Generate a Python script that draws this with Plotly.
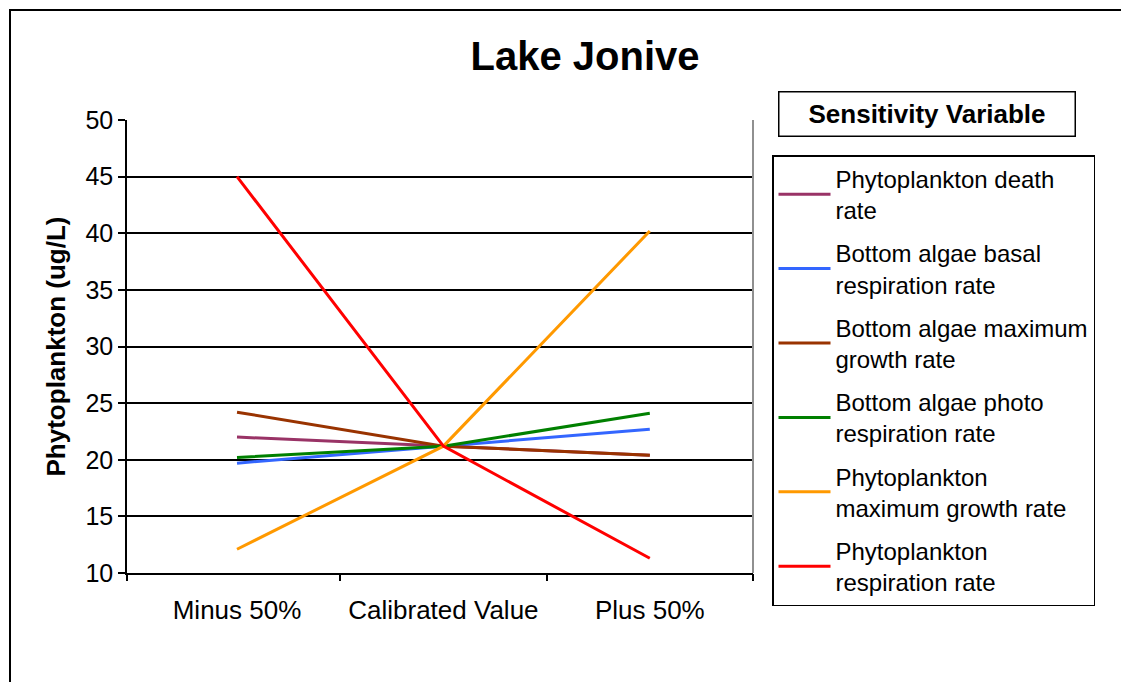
import plotly.graph_objects as go

categories = ["Minus 50%", "Calibrated Value", "Plus 50%"]
series_names = [
    "Phytoplankton death<br>rate",
    "Bottom algae basal<br>respiration rate",
    "Bottom algae maximum<br>growth rate",
    "Bottom algae photo<br>respiration rate",
    "Phytoplankton<br>maximum growth rate",
    "Phytoplankton<br>respiration rate",
]
death_rate = [22.0, 21.2, 20.4]
basal_resp = [19.7, 21.2, 22.7]
max_growth_algae = [24.2, 21.2, 20.4]
photo_resp = [20.2, 21.2, 24.1]
phyto_max_growth = [12.1, 21.2, 40.2]
phyto_resp = [45.0, 21.2, 11.3]
series_values = [death_rate, basal_resp, max_growth_algae, photo_resp, phyto_max_growth, phyto_resp]
colors = ["#993366", "#3366FF", "#993300", "#008000", "#FF9900", "#FF0000"]
y_ticks = [10, 15, 20, 25, 30, 35, 40, 45, 50]

FONT = "Liberation Sans, Arial, sans-serif"
OFF = 8  # page body margin
X_RANGE = [-0.533, 2.5]

fig = go.Figure()
for i, (name, vals, col) in enumerate(zip(series_names, series_values, colors)):
    fig.add_trace(go.Scatter(
        x=categories, y=vals, name=name, mode="lines",
        line=dict(color=col, width=3), legendgroup=f"g{i}",
    ))

# helper (invisible) trace so the boundary-tick axis gets drawn
fig.add_trace(go.Scatter(
    x=[0], y=[None], xaxis="x2", yaxis="y", mode="markers",
    marker=dict(opacity=0), showlegend=False, hoverinfo="skip",
))

W, H = 1129 - OFF, 682 - OFF
L, T = 127 - OFF, 120 - OFF
R = W - (753 - OFF)
B = H - (573 - OFF)
pw, ph = W - L - R, H - T - B


def px_x(x):
    return (x - OFF - L) / pw


def px_y(y):
    return (H - B - (y - OFF)) / ph


fig.update_layout(
    width=W, height=H,
    margin=dict(l=L, r=R, t=T, b=B),
    paper_bgcolor="white", plot_bgcolor="white",
    font=dict(family=FONT, color="black"),
    title=dict(text="<b>Lake Jonive</b>", x=(585 - OFF) / W, xanchor="center",
               y=1 - (56 - OFF) / H, yanchor="middle", font=dict(size=40, family=FONT)),
    showlegend=True,
    legend=dict(
        x=px_x(772), y=px_y(155), xanchor="left", yanchor="top",
        bordercolor="black", borderwidth=1.5, bgcolor="white",
        font=dict(size=24, family=FONT), tracegroupgap=9,
        itemwidth=52,
    ),
    xaxis=dict(
        type="category", range=X_RANGE,
        ticks="", showline=True, linecolor="black", linewidth=1.5,
        showgrid=False, tickfont=dict(size=26, family=FONT), zeroline=False,
        ticklabelstandoff=13,
    ),
    xaxis2=dict(
        overlaying="x", anchor="y", side="bottom", type="linear", range=X_RANGE,
        tickvals=[X_RANGE[0], 0.5, 1.5, 2.5], showticklabels=False,
        ticks="outside", ticklen=7, tickcolor="black", tickwidth=1.5,
        showgrid=False, showline=False, zeroline=False,
    ),
    yaxis=dict(
        range=[10, 50], tickvals=y_ticks, ticks="outside", ticklen=7,
        tickcolor="black", tickwidth=1.5, showline=True, linecolor="black", linewidth=1.5,
        showgrid=True, gridcolor="black", gridwidth=1.5, zeroline=False,
        tickfont=dict(size=25, family=FONT),
        title=dict(text="<b>Phytoplankton (ug/L)</b>", font=dict(size=26, family=FONT), standoff=12),
    ),
    shapes=[
        dict(type="line", xref="paper", yref="paper", x0=1, x1=1, y0=0, y1=1,
             line=dict(color="#909090", width=2)),
        dict(type="rect", xref="paper", yref="paper",
             x0=px_x(10), x1=px_x(1145), y0=px_y(700), y1=px_y(10),
             line=dict(color="black", width=2)),
    ],
    annotations=[
        dict(text="<b>Sensitivity Variable</b>", xref="paper", yref="paper",
             x=px_x(926.5), y=px_y(114), xanchor="center", yanchor="middle",
             showarrow=False, font=dict(size=26, family=FONT),
             bordercolor="black", borderwidth=1.5, borderpad=6, bgcolor="white",
             width=283, height=31),
    ],
)

fig.write_html("out.html")
